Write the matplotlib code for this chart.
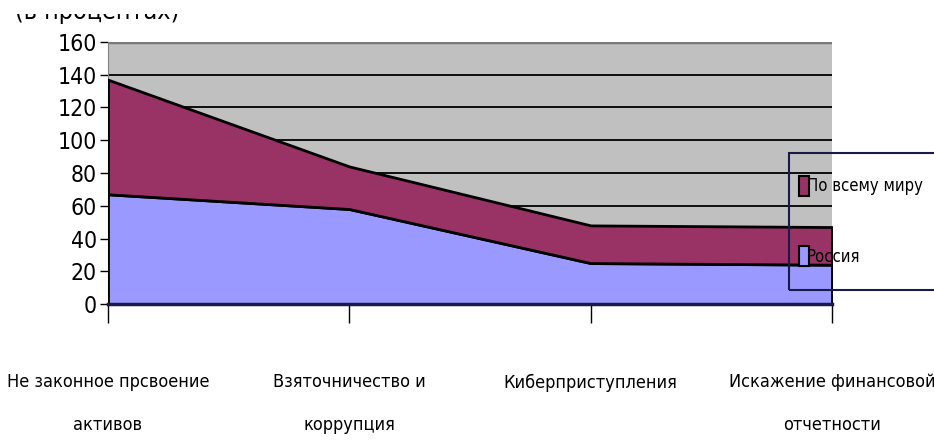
import matplotlib
matplotlib.use("Agg")
import matplotlib.pyplot as plt
from matplotlib.patches import Rectangle, Patch
import numpy as np

# data
categories = ["Не законное прсвоение\nактивов", "Взяточничество и\nкоррупция",
              "Киберприступления", "Искажение финансовой\nотчетности"]
russia = [67, 58, 25, 24]
world = [70, 26, 23, 23]
series_names = ["Россия", "По всему миру"]
colors = ["#9999FF", "#993366"]

plt.rcParams["font.family"] = ["DejaVu Sans"]
plt.rcParams["font.stretch"] = "condensed"

fig = plt.figure(figsize=(9.34, 4.42), dpi=100)
ax = fig.add_axes([108 / 934, 1 - 304 / 442, 724 / 934, 262 / 442])
ax.set_facecolor("#C0C0C0")

x = np.arange(len(categories))
ax.stackplot(x, russia, world, colors=colors, edgecolor="black", linewidth=2, zorder=3)

ax.set_xlim(0, len(categories) - 1)
ax.set_ylim(0, 160)
ax.set_yticks(np.arange(0, 161, 20))
ax.grid(axis="y", color="black", linewidth=1.3, zorder=1)
ax.set_axisbelow(True)

ax.set_xticks(x)
ax.set_xticklabels(categories, fontsize=13, linespacing=2.75, va="top",
                   fontstretch="condensed")
ax.tick_params(axis="x", length=14, width=1, color="black", pad=36)
ax.tick_params(axis="y", length=6, width=1, labelsize=16.5, pad=2)
for lbl in ax.get_yticklabels():
    lbl.set_fontstretch("condensed")

for s in ["top", "right"]:
    ax.spines[s].set_visible(False)
ax.spines["left"].set_color("#808080")
ax.spines["bottom"].set_color("#1a1a4a")
ax.spines["bottom"].set_linewidth(2.5)
ax.spines["bottom"].set_zorder(5)
ax.axhline(160, color="#7a7a7a", linewidth=2.5, zorder=2)

# legend frame running off the right edge
fig.add_artist(Rectangle((789 / 934, 1 - 290 / 442), 0.3, 137 / 442,
                         transform=fig.transFigure, facecolor="none",
                         edgecolor="#1a1a4a", linewidth=1.5, zorder=6))
handles = [Patch(facecolor=colors[1], edgecolor="black", linewidth=1.5),
           Patch(facecolor=colors[0], edgecolor="black", linewidth=1.5)]
leg = fig.legend(handles, [series_names[1], series_names[0]], loc="upper left",
                 bbox_to_anchor=(791 / 934, 1 - 168 / 442), frameon=False,
                 fontsize=12, handlelength=0.6, handleheight=1.4, handletextpad=-0.15,
                 labelspacing=3.05, borderpad=0)
for t in leg.get_texts():
    t.set_fontstretch("condensed")

# heading line, only its lower edge shows: a clipped strip axes holds it
head_ax = fig.add_axes([0, 1 - 26 / 442, 1, 12 / 442])
head_ax.set_axis_off()
head_ax.text(15 / 934, 1 - 19 / 442, "(в процентах)", fontsize=18, va="baseline",
             fontstretch="condensed", transform=fig.transFigure, clip_on=True)

fig.savefig("out.png", dpi=100)
